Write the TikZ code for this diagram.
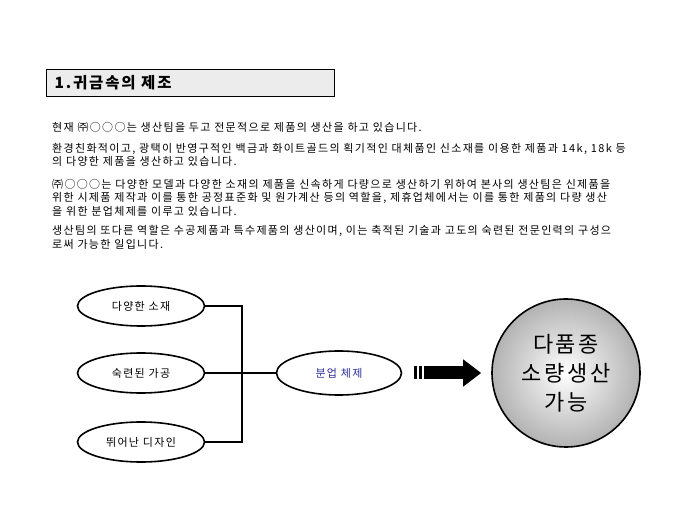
\documentclass[tikz,border=0pt]{standalone}
\usepackage{fontspec}
\setmainfont[LetterSpace=12]{Noto Sans CJK KR}
\usetikzlibrary{shapes.geometric,arrows.meta}
\definecolor{boxgray}{HTML}{ECECEC}
\definecolor{labelblue}{HTML}{2B2B9A}

\begin{document}
\begin{tikzpicture}
		[x=1pt,y=-1pt,
		item/.style={ellipse,draw,line width=1.6pt,inner sep=0pt,minimum width=127pt,minimum height=40pt,font=\fontsize{11}{13}\selectfont},
		link/.style={line width=2.4pt},
		para/.style={anchor=west,inner sep=0pt,align=left,font=\fontsize{11}{13.5}\selectfont}]
		\useasboundingbox (0,0) rectangle (680,510);

		% draw the title bar
		\node [draw,fill=boxgray,line width=0.8pt,anchor=north west,minimum width=288pt,minimum height=27pt,inner sep=0pt] (titlebox) at (46,69) {};
		\node [anchor=west,font=\fontsize{15.5}{18}\selectfont\bfseries] (title) at ([xshift=5pt]titlebox.west) {1.귀금속의 제조};

		% draw the text
		\node [para] (p1) at (52,127) {현재 ㈜○○○는 생산팀을 두고 전문적으로 제품의 생산을 하고 있습니다.};
		\node [para] (p2) at (52,155) {환경친화적이고, 광택이 반영구적인 백금과 화이트골드의 획기적인 대체품인 신소재를 이용한 제품과 14k, 18k 등\\의 다양한 제품을 생산하고 있습니다.};
		\node [para] (p3) at (52,197.5) {㈜○○○는 다양한 모델과 다양한 소재의 제품을 신속하게 다량으로 생산하기 위하여 본사의 생산팀은 신제품을\\위한 시제품 제작과 이를 통한 공정표준화 및 원가계산 등의 역할을, 제휴업체에서는 이를 통한 제품의 다량 생산\\을 위한 분업체제를 이루고 있습니다.};
		\node [para] (p4) at (52,237.5) {생산팀의 또다른 역할은 수공제품과 특수제품의 생산이며, 이는 축적된 기술과 고도의 숙련된 전문인력의 구성으\\로써 가능한 일입니다.};

		% draw the three ellipses
		\node [item] (mat) at (141,306) {다양한 소재};
		\node [item] (proc) at (141,373) {숙련된 가공};
		\node [item] (design) at (141,442) {뛰어난 디자인};
		\node [item,minimum width=125pt,minimum height=44pt,text=labelblue] (sys) at (339,373) {분업 체제};
		\coordinate (joint) at (242,373);

		% draw the connections
		\draw [link] (mat.east) -| (joint) |- (design.east);
		\draw [link] (proc.east) -- (sys.west);

		% draw the result circle
		\node [circle,draw,line width=1.6pt,minimum size=148pt,inner sep=0pt,inner color=white,outer color=black!30,align=center,font=\fontsize{22}{29}\selectfont] (result) at (566,373) {다품종\\소량생산\\가능};

		% draw the fat arrow
		\coordinate (tail) at ([xshift=12pt]sys.east);
		\coordinate (tip) at ([xshift=-10pt]result.west);
		\fill (tail) ++(0,-6.5) rectangle ++(3,13);
		\fill (tail) ++(5,-6.5) rectangle ++(3,13);
		\draw [line width=13pt,-{Triangle[length=18pt,width=26pt]}] ([xshift=10pt]tail) -- (tip);
	\end{tikzpicture}
\end{document}
